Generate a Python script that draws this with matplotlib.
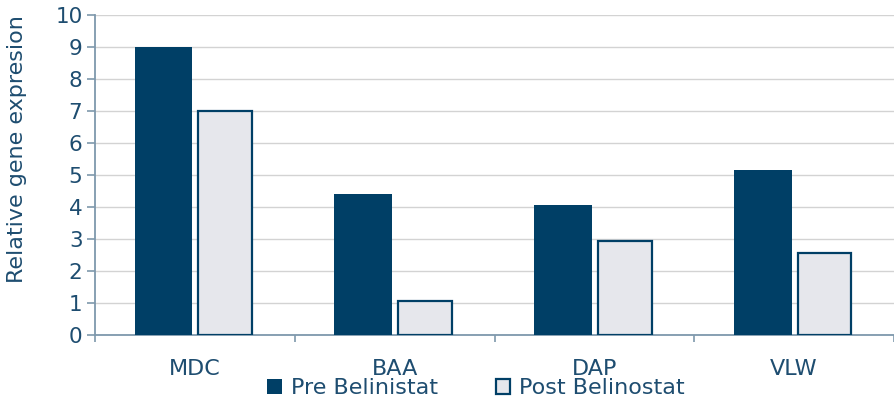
import matplotlib.pyplot as plt
import numpy as np

# gene expression before / after belinostat
genes = ["MDC", "BAA", "DAP", "VLW"]
pre_values = [9.0, 4.4, 4.06, 5.15]
post_values = [7.0, 1.05, 2.93, 2.56]
y_ticks = [0, 1, 2, 3, 4, 5, 6, 7, 8, 9, 10]

navy = "#003F66"
pale = "#E6E7EC"
text_col = "#1E4D70"
spine_col = "#7E98AC"

plt.rcParams["font.family"] = ["DejaVu Sans"]

fig = plt.figure(figsize=(8.94, 4.03), dpi=100)
ax = fig.add_axes([95 / 894, 1 - 335 / 403, 799 / 894, 320 / 403])

x = np.arange(len(genes))
ax.bar(x - 0.157, pre_values, width=0.29, color=navy, label="Pre Belinistat", zorder=3)
ax.bar(x + 0.152, post_values, width=0.27, color=pale, edgecolor=navy, linewidth=1.6,
       label="Post Belinostat", zorder=3)

ax.set_xlim(-0.5, len(genes) - 0.5)
ax.set_ylim(0, 10)
ax.set_yticks(y_ticks)
ax.yaxis.grid(True, color="#D3D3D3", linewidth=1.0, zorder=0)

# category labels centred, ticks between categories
ax.set_xticks(x)
ax.set_xticklabels(genes)
ax.set_xticks(np.arange(-0.5, len(genes) + 0.5, 1), minor=True)
ax.tick_params(axis="x", which="major", length=0, pad=17, labelsize=16, labelcolor=text_col)
ax.tick_params(axis="x", which="minor", length=5, width=1.2, color=spine_col, direction="out")
ax.tick_params(axis="y", length=6, width=1.2, color=spine_col, labelsize=15.5,
               labelcolor=text_col, pad=3)

for side in ["top", "right"]:
    ax.spines[side].set_visible(False)
for side in ["left", "bottom"]:
    ax.spines[side].set_color(spine_col)
    ax.spines[side].set_linewidth(1.3)

ax.set_ylabel("Relative gene expresion", color=text_col, fontsize=16)
ax.yaxis.set_label_coords(-0.085, 0.58)

fig.legend(*ax.get_legend_handles_labels(), loc="center",
           bbox_to_anchor=(476 / 894, 1 - 388 / 403), ncol=2, frameon=False,
           fontsize=16, labelcolor=text_col, handlelength=0.65, handleheight=0.65,
           columnspacing=2.6, handletextpad=0.4, borderpad=0)

fig.savefig("out.png", dpi=100)
